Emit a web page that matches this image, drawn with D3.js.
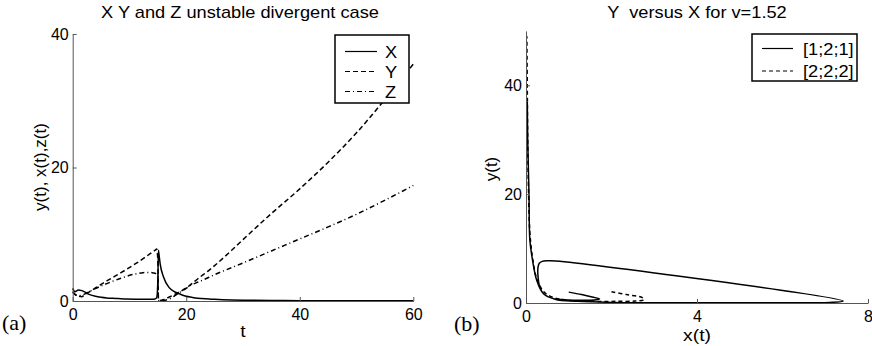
<!DOCTYPE html>
<html>
<head>
<meta charset="utf-8">
<script src="https://cdn.jsdelivr.net/npm/d3@7"></script>
<style>
  body { margin: 0; background: #fff; }
  svg { display: block; font-family: "Liberation Sans", Arial, sans-serif; }
</style>
</head>
<body>
<svg id="chart"></svg>
<script>
// (a) time series
const timeT = [0, 0.4, 1, 1.6, 2, 3, 4, 5, 6, 7, 8, 9.5, 11, 12, 13, 14, 14.5, 14.8, 15.0, 15.1, 15.2, 15.4, 16, 17, 18, 19, 20, 21, 22, 24, 25, 28, 30, 35, 40, 45, 50, 55, 60];
const seriesX = [1.9, 1.4, 1.65, 1.55, 1.4, 0.95, 0.7, 0.55, 0.45, 0.4, 0.36, 0.3, 0.27, 0.26, 0.25, 0.25, 0.3, 0.5, 3.0, 7.6, 7.0, 5.6, 3.6, 2.0, 1.35, 1.0, 0.7, 0.55, 0.42, 0.3, 0.25, 0.15, 0.12, 0.07, 0.05, 0.04, 0.03, 0.02, 0.02];
const seriesY = [1.4, 1.0, 0.75, 0.65, 0.85, 1.4, 1.95, 2.5, 3.0, 3.5, 4.0, 4.75, 5.55, 6.1, 6.7, 7.3, 7.6, 7.8, 6.0, 0.35, 0.1, 0.08, 0.2, 0.6, 1.0, 1.45, 1.95, 2.6, 3.3, 4.6, 5.3, 7.6, 9.2, 13.1, 16.8, 20.8, 25.2, 30.2, 35.5];
const seriesZ = [1.3, 1.0, 0.8, 0.85, 1.0, 1.45, 1.85, 2.25, 2.6, 2.95, 3.25, 3.7, 4.05, 4.2, 4.28, 4.25, 4.15, 4.05, 3.8, 0.2, 0.05, 0.05, 0.08, 0.3, 0.8, 1.35, 1.9, 2.45, 2.8, 3.55, 3.95, 5.0, 5.7, 7.5, 9.3, 11.1, 13.0, 15.1, 17.3];
const seriesNamesA = ['X', 'Y', 'Z'];

// (b) phase plane y versus x
const phaseX1 = [1.0, 1.3, 1.55, 1.72, 1.6, 1.3, 0.9, 0.6, 0.42, 0.32, 0.28, 0.28, 0.31, 0.38, 0.5, 0.7, 7.42, 7.1, 5.5, 3.5, 2.0, 1.2, 0.68, 0.4, 0.25, 0.15, 0.09, 0.07, 0.04, 0.03];
const phaseY1 = [2.0, 1.55, 1.1, 0.75, 0.55, 0.5, 0.6, 0.9, 1.6, 3.0, 5.0, 6.5, 7.3, 7.65, 7.75, 7.72, 0.35, 0.1, 0.05, 0.05, 0.1, 0.3, 0.7, 1.8, 4.2, 8.0, 11.6, 20.0, 30.0, 37.0];
const phaseX2 = [2.0, 2.35, 2.72, 2.76, 2.55, 2.1, 1.6, 1.15, 0.8, 0.55, 0.4, 0.25, 0.15, 0.09, 0.06, 0.04, 0.03, 0.02];
const phaseY2 = [2.05, 1.55, 1.0, 0.6, 0.35, 0.3, 0.3, 0.4, 0.7, 1.3, 2.2, 4.5, 8.5, 13, 20, 30, 40, 49];
const seriesNamesB = ['[1;2;1]', '[2;2;2]'];

const stretch = 1.14;

class Panel {

    constructor( config, data ) {
        this.config = config;
        this.data = data;
        this.init();
    }

    init() {
        let self = this;
        let c = self.config;

        self.svg = d3.select( c.parent ).append('g');

        self.xscale = d3.scaleLinear().domain(c.xDomain).range(c.xRange);
        self.yscale = d3.scaleLinear().domain(c.yDomain).range(c.yRange);
    }

    label( x, y, str, size, anchor ) {
        return this.svg.append('text')
            .attr('transform', `translate(${x},${y}) scale(${stretch},1)`)
            .attr('text-anchor', anchor || 'middle')
            .style('font-size', size + 'px')
            .style('white-space', 'pre')
            .text(str);
    }

    render() {
        let self = this;
        let c = self.config;

        let line = d3.line()
            .x( d => self.xscale(d[0]) )
            .y( d => self.yscale(d[1]) )
            .curve(c.curve);

        self.svg.selectAll('path.series')
            .data(self.data)
            .enter()
            .append('path')
            .attr('class', 'series')
            .attr('d', d => line(d.points))
            .attr('fill', 'none')
            .attr('stroke', 'black')
            .attr('stroke-width', 1.5)
            .attr('stroke-dasharray', d => d.dash);

        let xaxis = d3.axisBottom(self.xscale)
            .tickValues(c.xTicks)
            .tickSizeInner(-4)
            .tickSizeOuter(0)
            .tickPadding(8);
        let yaxis = d3.axisLeft(self.yscale)
            .tickValues(c.yTicks)
            .tickSizeInner(-4)
            .tickSizeOuter(0)
            .tickPadding(4);

        [ self.svg.append('g').attr('transform', `translate(0,${c.yRange[0]})`).call(xaxis),
          self.svg.append('g').attr('transform', `translate(${c.xRange[0]},0)`).call(yaxis) ]
            .forEach( g => {
                g.select('.domain').attr('stroke', '#555');
                g.selectAll('.tick line').attr('stroke', '#555');
                g.selectAll('.tick text')
                    .attr('fill', 'black')
                    .style('font-family', '"Liberation Sans", Arial, sans-serif')
                    .style('font-size', '16px');
            });

        // titles and labels
        self.label(c.titleX, c.titleY, c.title, 16);
        self.label(c.xLabelX, c.xLabelY, c.xLabel, 17);
        self.svg.append('text')
            .attr('transform', `translate(${c.yLabelX},${c.yLabelY}) rotate(-90)`)
            .attr('text-anchor', 'middle')
            .style('font-size', '17px')
            .text(c.yLabel);
        self.svg.append('text')
            .attr('x', c.tagX)
            .attr('y', c.tagY)
            .style('font-family', '"Liberation Serif", "Times New Roman", serif')
            .style('font-size', '22px')
            .text(c.tag);

        // legend
        let lg = c.legend;
        self.svg.append('rect')
            .attr('x', lg.x).attr('y', lg.y)
            .attr('width', lg.w).attr('height', lg.h)
            .attr('fill', 'white')
            .attr('stroke', 'black')
            .attr('stroke-width', 1.5);
        self.data.forEach( (d, i) => {
            let ry = lg.y + lg.first + i * lg.step;
            self.svg.append('line')
                .attr('x1', lg.x + lg.lineStart).attr('x2', lg.x + lg.lineEnd)
                .attr('y1', ry).attr('y2', ry)
                .attr('stroke', 'black')
                .attr('stroke-width', 1.2)
                .attr('stroke-dasharray', d.dash);
            self.label(lg.x + lg.textStart, ry + 6, d.name, 16, 'start');
        });
    }
}

const svg = d3.select('#chart').attr('width', 872).attr('height', 346);

const dashes = [null, '5,3', '5,3,1,3'];

let panelA = new Panel({
    parent: '#chart',
    xDomain: [0, 60], xRange: [72.7, 413.3],
    yDomain: [0, 40], yRange: [301, 34],
    xTicks: [0, 20, 40, 60], yTicks: [0, 20, 40],
    curve: d3.curveMonotoneX,
    title: 'X Y and Z unstable divergent case', titleX: 240, titleY: 18,
    xLabel: 't', xLabelX: 243, xLabelY: 337,
    yLabel: 'y(t), x(t),z(t)', yLabelX: 46, yLabelY: 167,
    tag: '(a)', tagX: 2, tagY: 330,
    legend: { x: 335, y: 35, w: 74, h: 68, first: 16.5, step: 20, lineStart: 10, lineEnd: 42, textStart: 50 }
}, [seriesX, seriesY, seriesZ].map( (s, i) => ({
    name: seriesNamesA[i],
    dash: dashes[i],
    points: timeT.map( (t, j) => [t, s[j]] )
})));
panelA.render();

let panelB = new Panel({
    parent: '#chart',
    xDomain: [0, 8], xRange: [526, 868],
    yDomain: [0, 50], yRange: [303, 30.9],
    xTicks: [0, 4, 8], yTicks: [0, 20, 40],
    curve: d3.curveCatmullRom.alpha(0.5),
    title: 'Y  versus X for v=1.52', titleX: 697, titleY: 17.5,
    xLabel: 'x(t)', xLabelX: 697, xLabelY: 341,
    yLabel: 'y(t)', yLabelX: 497, yLabelY: 169,
    tag: '(b)', tagX: 454, tagY: 331,
    legend: { x: 752, y: 34, w: 105, h: 47, first: 14.5, step: 22.5, lineStart: 10, lineEnd: 41, textStart: 51 }
}, [[phaseX1, phaseY1], [phaseX2, phaseY2]].map( (s, i) => ({
    name: seriesNamesB[i],
    dash: i === 0 ? null : '4,3',
    points: s[0].map( (x, j) => [x, s[1][j]] )
})));
panelB.render();
</script>
</body>
</html>
